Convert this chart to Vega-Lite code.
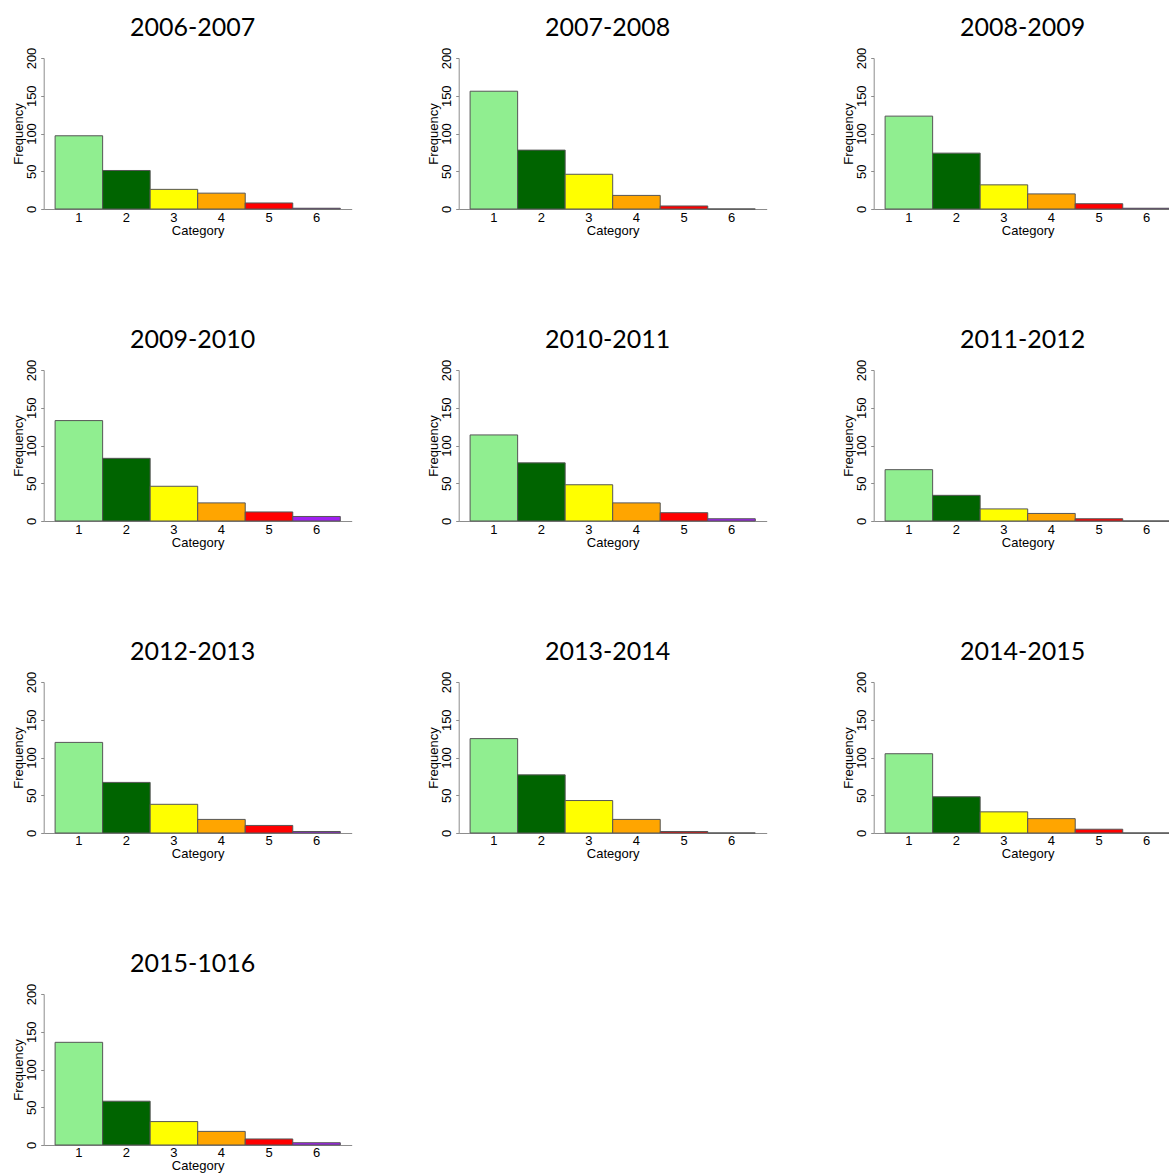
{
  "$schema": "https://vega.github.io/schema/vega-lite/v6.json",
  "background": "white",
  "padding": {"left": 12.7, "top": 16, "right": 5, "bottom": 0},
  "data": {
    "values": [
      {"season": "2006-2007", "category": 1, "count": 97},
      {"season": "2006-2007", "category": 2, "count": 51},
      {"season": "2006-2007", "category": 3, "count": 26},
      {"season": "2006-2007", "category": 4, "count": 21},
      {"season": "2006-2007", "category": 5, "count": 8},
      {"season": "2006-2007", "category": 6, "count": 1},
      {"season": "2007-2008", "category": 1, "count": 156},
      {"season": "2007-2008", "category": 2, "count": 78},
      {"season": "2007-2008", "category": 3, "count": 46},
      {"season": "2007-2008", "category": 4, "count": 18},
      {"season": "2007-2008", "category": 5, "count": 4},
      {"season": "2007-2008", "category": 6, "count": 0},
      {"season": "2008-2009", "category": 1, "count": 123},
      {"season": "2008-2009", "category": 2, "count": 74},
      {"season": "2008-2009", "category": 3, "count": 32},
      {"season": "2008-2009", "category": 4, "count": 20},
      {"season": "2008-2009", "category": 5, "count": 7},
      {"season": "2008-2009", "category": 6, "count": 1},
      {"season": "2009-2010", "category": 1, "count": 133},
      {"season": "2009-2010", "category": 2, "count": 83},
      {"season": "2009-2010", "category": 3, "count": 46},
      {"season": "2009-2010", "category": 4, "count": 24},
      {"season": "2009-2010", "category": 5, "count": 12},
      {"season": "2009-2010", "category": 6, "count": 6},
      {"season": "2010-2011", "category": 1, "count": 114},
      {"season": "2010-2011", "category": 2, "count": 77},
      {"season": "2010-2011", "category": 3, "count": 48},
      {"season": "2010-2011", "category": 4, "count": 24},
      {"season": "2010-2011", "category": 5, "count": 11},
      {"season": "2010-2011", "category": 6, "count": 3},
      {"season": "2011-2012", "category": 1, "count": 68},
      {"season": "2011-2012", "category": 2, "count": 34},
      {"season": "2011-2012", "category": 3, "count": 16},
      {"season": "2011-2012", "category": 4, "count": 10},
      {"season": "2011-2012", "category": 5, "count": 3},
      {"season": "2011-2012", "category": 6, "count": 0},
      {"season": "2012-2013", "category": 1, "count": 120},
      {"season": "2012-2013", "category": 2, "count": 67},
      {"season": "2012-2013", "category": 3, "count": 38},
      {"season": "2012-2013", "category": 4, "count": 18},
      {"season": "2012-2013", "category": 5, "count": 10},
      {"season": "2012-2013", "category": 6, "count": 2},
      {"season": "2013-2014", "category": 1, "count": 125},
      {"season": "2013-2014", "category": 2, "count": 77},
      {"season": "2013-2014", "category": 3, "count": 43},
      {"season": "2013-2014", "category": 4, "count": 18},
      {"season": "2013-2014", "category": 5, "count": 2},
      {"season": "2013-2014", "category": 6, "count": 0},
      {"season": "2014-2015", "category": 1, "count": 105},
      {"season": "2014-2015", "category": 2, "count": 48},
      {"season": "2014-2015", "category": 3, "count": 28},
      {"season": "2014-2015", "category": 4, "count": 19},
      {"season": "2014-2015", "category": 5, "count": 5},
      {"season": "2014-2015", "category": 6, "count": 0},
      {"season": "2015-1016", "category": 1, "count": 136},
      {"season": "2015-1016", "category": 2, "count": 58},
      {"season": "2015-1016", "category": 3, "count": 31},
      {"season": "2015-1016", "category": 4, "count": 18},
      {"season": "2015-1016", "category": 5, "count": 8},
      {"season": "2015-1016", "category": 6, "count": 3}
    ]
  },
  "columns": 3,
  "bounds": "flush",
  "spacing": {"row": 161, "column": 107},
  "concat": [
    {"title": {"text": "2006-2007"}, "transform": [{"filter": "datum.season === '2006-2007'"}], "width": 308, "height": 151, "mark": {"type": "bar"},
     "encoding": {"x": {"field": "category", "type": "ordinal", "title": "Category", "scale": {"domain": [1,2,3,4,5,6], "paddingInner": 0, "paddingOuter": 0.24}}, "y": {"field": "count", "type": "quantitative", "title": "Frequency", "scale": {"domain": [0, 200]}}, "color": {"field": "category", "type": "ordinal", "legend": null, "scale": {"domain": [1,2,3,4,5,6], "range": ["#90EE90", "#006400", "#FFFF00", "#FFA500", "#FF0000", "#A020F0"]}}}},
    {"title": {"text": "2007-2008"}, "transform": [{"filter": "datum.season === '2007-2008'"}], "width": 308, "height": 151, "mark": {"type": "bar"},
     "encoding": {"x": {"field": "category", "type": "ordinal", "title": "Category", "scale": {"domain": [1,2,3,4,5,6], "paddingInner": 0, "paddingOuter": 0.24}}, "y": {"field": "count", "type": "quantitative", "title": "Frequency", "scale": {"domain": [0, 200]}}, "color": {"field": "category", "type": "ordinal", "legend": null, "scale": {"domain": [1,2,3,4,5,6], "range": ["#90EE90", "#006400", "#FFFF00", "#FFA500", "#FF0000", "#A020F0"]}}}},
    {"title": {"text": "2008-2009"}, "transform": [{"filter": "datum.season === '2008-2009'"}], "width": 308, "height": 151, "mark": {"type": "bar"},
     "encoding": {"x": {"field": "category", "type": "ordinal", "title": "Category", "scale": {"domain": [1,2,3,4,5,6], "paddingInner": 0, "paddingOuter": 0.24}}, "y": {"field": "count", "type": "quantitative", "title": "Frequency", "scale": {"domain": [0, 200]}}, "color": {"field": "category", "type": "ordinal", "legend": null, "scale": {"domain": [1,2,3,4,5,6], "range": ["#90EE90", "#006400", "#FFFF00", "#FFA500", "#FF0000", "#A020F0"]}}}},
    {"title": {"text": "2009-2010"}, "transform": [{"filter": "datum.season === '2009-2010'"}], "width": 308, "height": 151, "mark": {"type": "bar"},
     "encoding": {"x": {"field": "category", "type": "ordinal", "title": "Category", "scale": {"domain": [1,2,3,4,5,6], "paddingInner": 0, "paddingOuter": 0.24}}, "y": {"field": "count", "type": "quantitative", "title": "Frequency", "scale": {"domain": [0, 200]}}, "color": {"field": "category", "type": "ordinal", "legend": null, "scale": {"domain": [1,2,3,4,5,6], "range": ["#90EE90", "#006400", "#FFFF00", "#FFA500", "#FF0000", "#A020F0"]}}}},
    {"title": {"text": "2010-2011"}, "transform": [{"filter": "datum.season === '2010-2011'"}], "width": 308, "height": 151, "mark": {"type": "bar"},
     "encoding": {"x": {"field": "category", "type": "ordinal", "title": "Category", "scale": {"domain": [1,2,3,4,5,6], "paddingInner": 0, "paddingOuter": 0.24}}, "y": {"field": "count", "type": "quantitative", "title": "Frequency", "scale": {"domain": [0, 200]}}, "color": {"field": "category", "type": "ordinal", "legend": null, "scale": {"domain": [1,2,3,4,5,6], "range": ["#90EE90", "#006400", "#FFFF00", "#FFA500", "#FF0000", "#A020F0"]}}}},
    {"title": {"text": "2011-2012"}, "transform": [{"filter": "datum.season === '2011-2012'"}], "width": 308, "height": 151, "mark": {"type": "bar"},
     "encoding": {"x": {"field": "category", "type": "ordinal", "title": "Category", "scale": {"domain": [1,2,3,4,5,6], "paddingInner": 0, "paddingOuter": 0.24}}, "y": {"field": "count", "type": "quantitative", "title": "Frequency", "scale": {"domain": [0, 200]}}, "color": {"field": "category", "type": "ordinal", "legend": null, "scale": {"domain": [1,2,3,4,5,6], "range": ["#90EE90", "#006400", "#FFFF00", "#FFA500", "#FF0000", "#A020F0"]}}}},
    {"title": {"text": "2012-2013"}, "transform": [{"filter": "datum.season === '2012-2013'"}], "width": 308, "height": 151, "mark": {"type": "bar"},
     "encoding": {"x": {"field": "category", "type": "ordinal", "title": "Category", "scale": {"domain": [1,2,3,4,5,6], "paddingInner": 0, "paddingOuter": 0.24}}, "y": {"field": "count", "type": "quantitative", "title": "Frequency", "scale": {"domain": [0, 200]}}, "color": {"field": "category", "type": "ordinal", "legend": null, "scale": {"domain": [1,2,3,4,5,6], "range": ["#90EE90", "#006400", "#FFFF00", "#FFA500", "#FF0000", "#A020F0"]}}}},
    {"title": {"text": "2013-2014"}, "transform": [{"filter": "datum.season === '2013-2014'"}], "width": 308, "height": 151, "mark": {"type": "bar"},
     "encoding": {"x": {"field": "category", "type": "ordinal", "title": "Category", "scale": {"domain": [1,2,3,4,5,6], "paddingInner": 0, "paddingOuter": 0.24}}, "y": {"field": "count", "type": "quantitative", "title": "Frequency", "scale": {"domain": [0, 200]}}, "color": {"field": "category", "type": "ordinal", "legend": null, "scale": {"domain": [1,2,3,4,5,6], "range": ["#90EE90", "#006400", "#FFFF00", "#FFA500", "#FF0000", "#A020F0"]}}}},
    {"title": {"text": "2014-2015"}, "transform": [{"filter": "datum.season === '2014-2015'"}], "width": 308, "height": 151, "mark": {"type": "bar"},
     "encoding": {"x": {"field": "category", "type": "ordinal", "title": "Category", "scale": {"domain": [1,2,3,4,5,6], "paddingInner": 0, "paddingOuter": 0.24}}, "y": {"field": "count", "type": "quantitative", "title": "Frequency", "scale": {"domain": [0, 200]}}, "color": {"field": "category", "type": "ordinal", "legend": null, "scale": {"domain": [1,2,3,4,5,6], "range": ["#90EE90", "#006400", "#FFFF00", "#FFA500", "#FF0000", "#A020F0"]}}}},
    {"title": {"text": "2015-1016"}, "transform": [{"filter": "datum.season === '2015-1016'"}], "width": 308, "height": 151, "mark": {"type": "bar"},
     "encoding": {"x": {"field": "category", "type": "ordinal", "title": "Category", "scale": {"domain": [1,2,3,4,5,6], "paddingInner": 0, "paddingOuter": 0.24}}, "y": {"field": "count", "type": "quantitative", "title": "Frequency", "scale": {"domain": [0, 200]}}, "color": {"field": "category", "type": "ordinal", "legend": null, "scale": {"domain": [1,2,3,4,5,6], "range": ["#90EE90", "#006400", "#FFFF00", "#FFA500", "#FF0000", "#A020F0"]}}}}
  ],
  "config": {
    "view": {"stroke": null},
    "bar": {"stroke": "#555555", "strokeWidth": 1, "opacity": 1, "fillOpacity": 1},
    "title": {"font": "Lato", "fontSize": 25, "fontWeight": "normal", "color": "#000000", "anchor": "middle", "frame": "group", "baseline": "alphabetic", "offset": 6, "dx": -5},
    "axis": {"grid": false, "domainColor": "#8c8c8c", "tickColor": "#8c8c8c", "labelFont": "Liberation Sans", "labelFontSize": 13, "labelColor": "#000000", "titleFont": "Liberation Sans", "titleFontSize": 13, "titleFontWeight": "normal", "titleColor": "#000000"},
    "axisX": {"ticks": false, "labelAngle": 0, "labelPadding": 2, "titlePadding": 0},
    "axisY": {"values": [0, 50, 100, 150, 200], "tickSize": 3, "labelAngle": -90, "labelAlign": "center", "labelBaseline": "bottom", "labelPadding": 2, "titlePadding": 0, "labelOverlap": false, "labelBound": false}
  }
}
